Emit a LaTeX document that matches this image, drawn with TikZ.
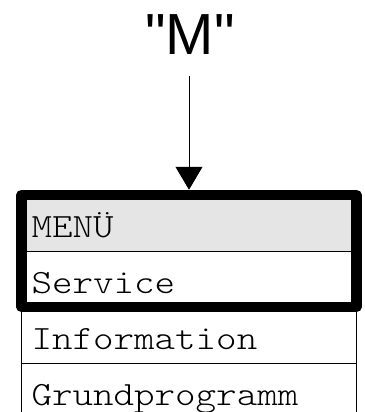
\documentclass[tikz,border=0pt]{standalone}
\usepackage{fontspec}
\setmainfont{Liberation Sans}
\newfontfamily\cellfont{Latin Modern Mono Light}[FakeStretch=1.15]
\usetikzlibrary{positioning,arrows.meta}
\tikzset{
    entry/.style={rectangle,draw=black,line width=0.8pt,outer sep=0pt, minimum width=335pt, minimum height=56pt, inner xsep=10pt, text width=315pt, align=left, text height=28pt, text depth=0pt, font=\cellfont\fontsize{34}{40}\selectfont},
    title/.style={font=\fontsize{58}{64}\selectfont, inner sep=0pt},
    frame/.style={draw=black, line width=10.5pt, line join=round},
    pointer/.style={-{Triangle[width=27pt,length=23pt]}, line width=0.8pt, shorten <=21pt, shorten >=5.25pt}
}

\begin{document}
\begin{tikzpicture}
    \useasboundingbox (0,0) rectangle (364pt,-412pt);
    \node[title,anchor=base] (key) at (190pt,-55pt) {\textquotedbl M\textquotedbl};
    \node[entry,fill=gray!20] (menu) at (189pt,-223pt) {MENÜ};
    \node[entry,below=0pt of menu] (service) {Service};
    \node[entry,below=0pt of service] (info) {Information};
    \node[entry,below=0pt of info] (basic) {Grundprogramm};
    \draw[frame] (menu.north west) rectangle (service.south east);
    \draw[pointer] (key.south -| menu.north) -- (menu.north);
\end{tikzpicture}
\end{document}
